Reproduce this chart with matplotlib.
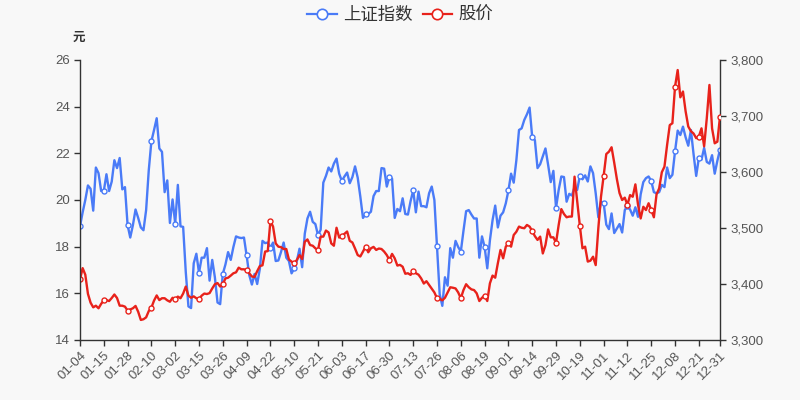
import matplotlib
matplotlib.use('Agg')
import matplotlib.pyplot as plt
from matplotlib.lines import Line2D
from matplotlib.ticker import FuncFormatter, MultipleLocator
import pandas as pd

plt.rcParams['font.family'] = ['Liberation Sans', 'Noto Sans CJK SC', 'DejaVu Sans']

# 2021年の取引日（休場日を除く）
HOLIDAYS = ['2021-01-01', '2021-02-11', '2021-02-12', '2021-02-15', '2021-02-16',
            '2021-02-17', '2021-04-05', '2021-05-03', '2021-05-04', '2021-05-05',
            '2021-06-14', '2021-09-20', '2021-09-21', '2021-10-01', '2021-10-04',
            '2021-10-05', '2021-10-06', '2021-10-07']
days = pd.bdate_range('2021-01-04', '2021-12-31')
days = days[~days.isin(pd.to_datetime(HOLIDAYS))]
dates = [d.strftime('%m-%d') for d in days]

# 上证指数
index_values = [
    3503, 3528, 3550, 3576, 3570, 3531, 3608, 3598, 3566, 3566,
    3596, 3566, 3583, 3621, 3607, 3625, 3569, 3573, 3505, 3483,
    3505, 3533, 3518, 3501, 3496, 3532, 3603, 3655, 3675, 3696,
    3642, 3636, 3564, 3585, 3509, 3551, 3508, 3577, 3503, 3502,
    3421, 3360, 3357, 3437, 3454, 3420, 3447, 3447, 3464, 3406,
    3443, 3412, 3367, 3364, 3418, 3435, 3457, 3443, 3466, 3485,
    3483, 3482, 3483, 3451, 3416, 3399, 3418, 3400, 3427, 3477,
    3473, 3474, 3465, 3474, 3441, 3442, 3457, 3474, 3447, 3441,
    3419, 3428, 3441, 3463, 3430, 3490, 3517, 3529, 3511, 3507,
    3487, 3497, 3581, 3593, 3608, 3601, 3615, 3624, 3597, 3584,
    3592, 3599, 3580, 3591, 3610, 3590, 3556, 3518, 3525, 3525,
    3529, 3557, 3566, 3566, 3607, 3606, 3574, 3591, 3588, 3518,
    3534, 3530, 3553, 3525, 3524, 3548, 3567, 3528, 3565, 3539,
    3539, 3537, 3562, 3574, 3550, 3467, 3382, 3361, 3412, 3397,
    3464, 3447, 3477, 3466, 3458, 3495, 3530, 3532, 3524, 3517,
    3517, 3447, 3485, 3466, 3428, 3478, 3514, 3540, 3501, 3522,
    3528, 3544, 3567, 3597, 3581, 3621, 3675, 3678, 3693, 3703,
    3715, 3662, 3657, 3607, 3614, 3628, 3642, 3613, 3582, 3602,
    3536, 3568, 3592, 3591, 3547, 3561, 3558, 3573, 3568, 3593,
    3587, 3594, 3583, 3610, 3598, 3562, 3519, 3547, 3545, 3506,
    3498, 3526, 3491, 3499, 3507, 3492, 3532, 3539, 3533, 3522,
    3537, 3520, 3560, 3582, 3589, 3592, 3584, 3564, 3562, 3564,
    3577, 3573, 3608, 3589, 3595, 3637, 3674, 3666, 3681, 3662,
    3647, 3675, 3632, 3593, 3625, 3622, 3643, 3618, 3615, 3630,
    3597, 3620, 3640,
]

# 股价（元）
price_values = [
    16.60, 17.08, 16.80, 15.98, 15.60, 15.40, 15.47, 15.36, 15.55, 15.70,
    15.71, 15.67, 15.80, 15.95, 15.80, 15.47, 15.47, 15.43, 15.26, 15.31,
    15.36, 15.46, 15.21, 14.86, 14.89, 14.97, 15.24, 15.39, 15.69, 15.91,
    15.71, 15.79, 15.79, 15.70, 15.64, 15.81, 15.74, 15.86, 15.79, 15.99,
    16.29, 15.90, 15.81, 15.87, 15.79, 15.76, 15.90, 15.99, 15.97, 16.01,
    16.21, 16.39, 16.44, 16.29, 16.39, 16.64, 16.67, 16.76, 16.86, 16.90,
    17.10, 17.03, 17.03, 16.99, 16.86, 16.72, 16.70, 16.95, 17.17, 17.20,
    17.79, 17.81, 19.10, 18.86, 18.14, 18.00, 17.98, 17.90, 17.90, 17.45,
    17.36, 17.29, 17.43, 17.64, 17.47, 18.21, 18.31, 18.07, 18.04, 17.93,
    17.86, 18.43, 18.43, 18.69, 18.61, 18.14, 18.04, 18.81, 18.39, 18.46,
    18.55, 18.65, 18.25, 18.18, 17.92, 17.64, 17.58, 17.79, 18.00, 17.76,
    17.93, 17.99, 17.86, 17.92, 17.90, 17.79, 17.64, 17.43, 17.69, 17.50,
    17.19, 17.22, 17.14, 16.84, 16.86, 16.79, 16.96, 16.86, 16.80, 16.64,
    16.42, 16.52, 16.36, 16.20, 16.04, 15.79, 15.76, 15.70, 15.81, 16.04,
    16.26, 16.24, 16.21, 16.04, 15.79, 16.14, 16.39, 16.26, 16.17, 16.14,
    16.00, 15.67, 15.81, 15.90, 15.67, 16.43, 16.76, 16.67, 17.29, 17.86,
    17.50, 18.00, 18.14, 18.00, 18.50, 18.64, 18.86, 18.81, 18.79, 18.93,
    18.86, 18.67, 18.45, 18.29, 18.43, 17.71, 18.07, 18.74, 18.40, 18.40,
    18.17, 18.93, 19.61, 19.40, 19.26, 19.29, 19.29, 21.00, 19.95, 18.90,
    17.93, 18.00, 17.36, 17.40, 17.57, 17.21, 18.80, 20.14, 21.03, 21.97,
    22.07, 22.26, 21.60, 20.90, 20.30, 20.00, 20.10, 19.79, 20.21, 20.14,
    20.67, 19.80, 19.21, 19.71, 19.57, 19.86, 19.57, 19.26, 20.24, 20.50,
    21.19, 21.43, 22.36, 23.21, 23.29, 24.86, 25.57, 24.40, 24.65, 23.80,
    23.15, 22.95, 22.85, 22.65, 22.72, 23.07, 22.30, 23.50, 24.93, 23.07,
    22.43, 22.50, 23.57,
]

BLUE = '#4a7bf7'
RED = '#e8221b'
BG = '#f8f8f8'
AXIS = '#333333'
TEXT = '#555555'

x = list(range(len(dates)))
tick_idx = list(range(0, len(dates), 9))
if tick_idx[-1] != len(dates) - 1:
    tick_idx.append(len(dates) - 1)

fig = plt.figure(figsize=(8, 4), dpi=100, facecolor=BG)
ax1 = fig.add_axes([0.1, 0.15, 0.8, 0.70])
ax2 = ax1.twinx()
# 赤線を上に描くため、右軸を下に回す
ax2.set_zorder(ax1.get_zorder() - 1)
ax1.patch.set_visible(False)
ax2.set_facecolor(BG)

ax2.plot(x, index_values, color=BLUE, lw=1.7, marker='o', markersize=3.6,
         markerfacecolor='white', markeredgecolor=BLUE, markeredgewidth=1.0,
         markevery=tick_idx)
ax1.plot(x, price_values, color=RED, lw=1.7, marker='o', markersize=3.6,
         markerfacecolor='white', markeredgecolor=RED, markeredgewidth=1.0,
         markevery=tick_idx)

ax1.set_xlim(0, len(dates) - 1)
ax1.set_ylim(14, 26)
ax1.yaxis.set_major_locator(MultipleLocator(2))
ax2.set_ylim(3300, 3800)
ax2.yaxis.set_major_locator(MultipleLocator(100))
ax2.yaxis.set_major_formatter(FuncFormatter(lambda v, p: f'{int(v):,}'))

ax1.set_xticks(tick_idx)
ax1.set_xticklabels([dates[i] for i in tick_idx], rotation=45, ha='right',
                    rotation_mode='anchor')

for ax in (ax1, ax2):
    for s in ax.spines.values():
        s.set_visible(False)
    ax.tick_params(colors=AXIS, labelcolor=TEXT, labelsize=9.5, length=4, width=1)
ax1.spines['left'].set_visible(True)
ax1.spines['bottom'].set_visible(True)
ax2.spines['right'].set_visible(True)
for s in (ax1.spines['left'], ax1.spines['bottom'], ax2.spines['right']):
    s.set_color(AXIS)
    s.set_linewidth(1)
ax1.tick_params(axis='x', pad=3)

fig.text(0.098, 0.905, '元', ha='center', va='center', fontsize=9,
         fontweight='bold', color='#333333')

handles = [
    Line2D([], [], color=BLUE, lw=1.6, marker='o', markersize=7.5,
           markerfacecolor='white', markeredgecolor=BLUE, markeredgewidth=1.2),
    Line2D([], [], color=RED, lw=1.6, marker='o', markersize=7.5,
           markerfacecolor='white', markeredgecolor=RED, markeredgewidth=1.2),
]
fig.legend(handles, ['上证指数', '股价'], loc='center', bbox_to_anchor=(0.5, 0.963),
           ncol=2, frameon=False, fontsize=12.5, handlelength=1.7,
           handletextpad=0.35, columnspacing=0.6, labelcolor='#333333')

fig.savefig('out.png', dpi=100, facecolor=BG)
